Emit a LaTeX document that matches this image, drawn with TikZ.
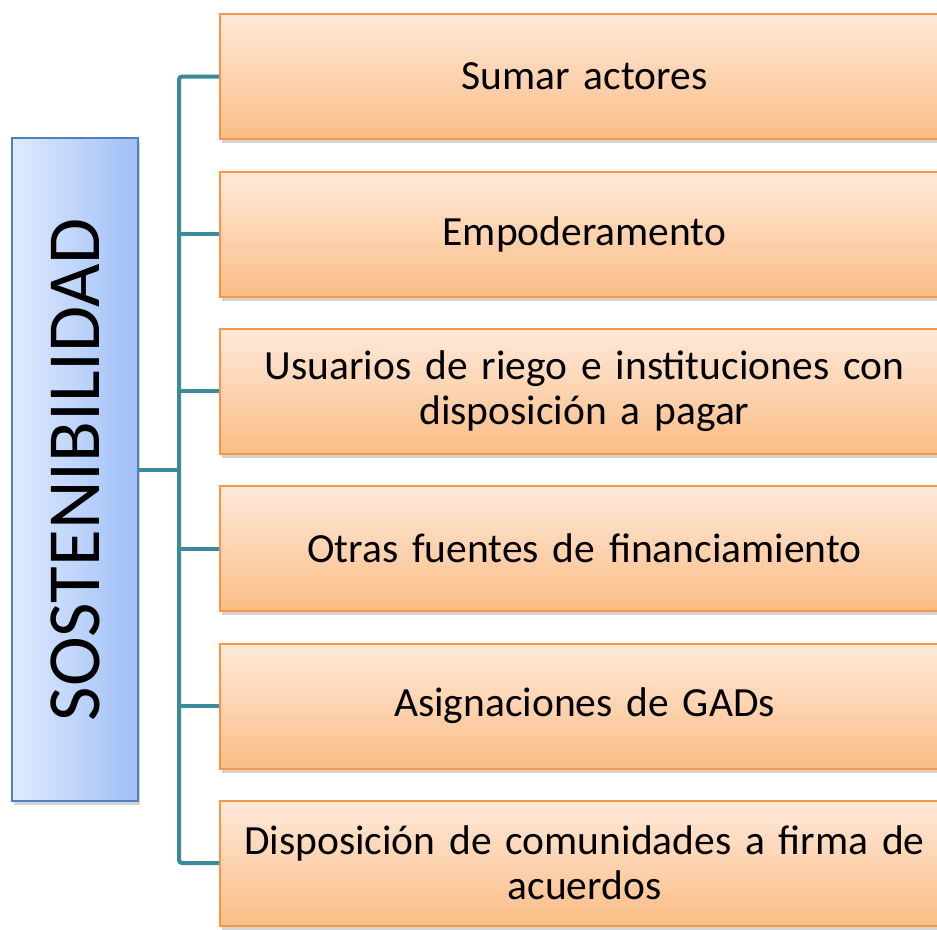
\documentclass[tikz,border=0pt]{standalone}
\usepackage{fontspec}
\setmainfont{Carlito}
\usetikzlibrary{shadows}
\definecolor{boxorange}{HTML}{F79646}
\definecolor{boxtop}{HTML}{FEE9DA}
\definecolor{boxbottom}{HTML}{FBBD86}
\definecolor{sostblue}{HTML}{4F81BD}
\definecolor{sostleft}{HTML}{DFEAFD}
\definecolor{sostright}{HTML}{A0C0F8}
\definecolor{branchteal}{HTML}{3A8A9C}
\tikzset{
  itembox/.style={draw=boxorange, line width=2pt, top color=boxtop, bottom color=boxbottom,
    minimum width=729pt, minimum height=125pt, text width=700pt, align=center, inner sep=0pt,
    font=\fontsize{41.5}{45}\selectfont,
    drop shadow={shadow xshift=1.5pt, shadow yshift=-4pt, fill=black!33}},
  sostbox/.style={draw=sostblue, line width=2pt, left color=sostleft, right color=sostright,
    minimum width=126pt, minimum height=663pt, inner sep=0pt,
    drop shadow={shadow xshift=1.5pt, shadow yshift=-4pt, fill=black!33}},
  branch/.style={draw=branchteal, line width=4pt}
}
\begin{document}
\begin{tikzpicture}[x=1pt,y=-1pt]
  \clip (0,0) rectangle (937,929);
  \fill[white] (0,0) rectangle (937,929);

  % Sostenibilidad
  \node[sostbox] (sost) at (75,469.5) {};
  \node[rotate=90, font=\fontsize{75}{80}\selectfont] (sostlabel) at (sost.center) {SOSTENIBILIDAD};

  % Elementos
  \node[itembox] (item1) at (584.5,76.5) {Sumar actores};
  \node[itembox] (item2) at (584.5,234) {Empoderamento};
  \node[itembox] (item3) at (584.5,391) {Usuarios de riego e instituciones con\\disposición a pagar};
  \node[itembox] (item4) at (584.5,548.5) {Otras fuentes de financiamiento};
  \node[itembox] (item5) at (584.5,706) {Asignaciones de GADs};
  \node[itembox] (item6) at (584.5,863) {Disposición de comunidades a firma de\\acuerdos};

  % Conectores
  \coordinate (trunk) at (179,469.5);
  \draw[branch] (sost.east) -- (trunk);
  \draw[branch, rounded corners=3pt] (item1.west) -| (trunk) |- (item6.west);
  \foreach \i in {2,...,5}
    \draw[branch] (item\i.west) -- (item\i.west -| trunk);
\end{tikzpicture}
\end{document}
